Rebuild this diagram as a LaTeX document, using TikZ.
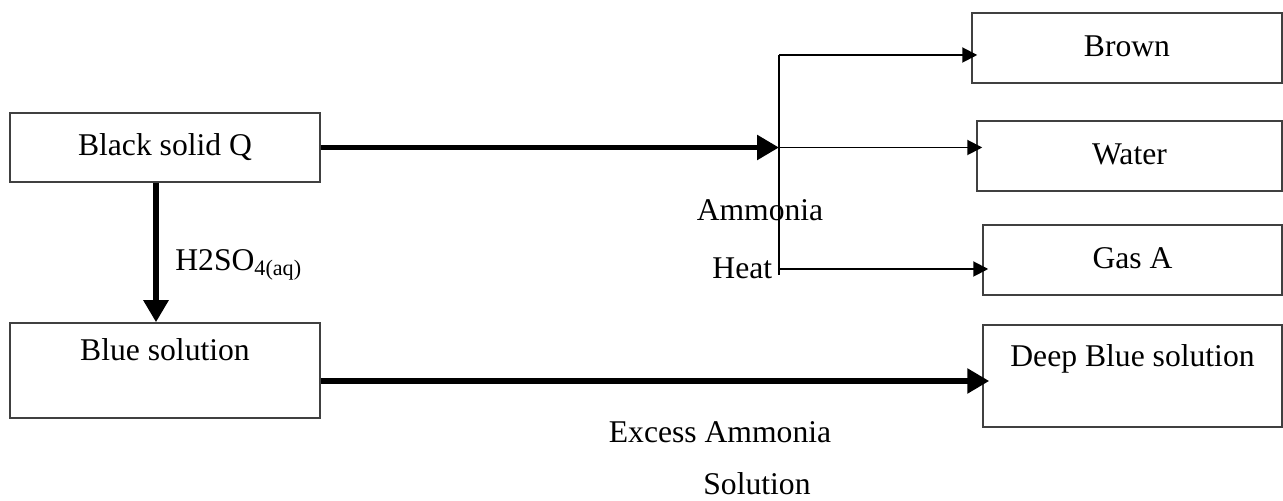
\documentclass[tikz,border=0pt]{standalone}
\usepackage{fontspec}
\setmainfont{Liberation Serif}
\usepackage{tikz}
\usetikzlibrary{arrows.meta,positioning,calc}
\tikzset{
  box/.style={rectangle, draw=black!75, line width=0.85pt, inner sep=0pt,
              minimum height=1.4cm, text height=0.45cm, text depth=0.12cm,
              font=\fontsize{18}{21}\selectfont},
  tallbox/.style={box, text depth=0.84cm},
  bigarrow/.style={-{Triangle[length=0.44cm,width=0.48cm]}, line width=3.4pt},
  thinarrow/.style={-{Triangle[length=0.3cm,width=0.3cm]}, line width=1.1pt,
                    shorten >=-0.12cm},
  lbl/.style={inner sep=0pt, font=\fontsize{18}{21}\selectfont},
}

\begin{document}
\begin{tikzpicture}
  \useasboundingbox (0,0) rectangle (25.66,10.02);

  % left column
  \node[box, minimum width=6.2cm, minimum height=1.38cm] (black) at (3.30,7.07) {Black solid Q};
  \node[tallbox, minimum width=6.2cm, minimum height=1.9cm] (blue) at (3.30,2.61) {Blue solution};

  % products (right column)
  \node[box, minimum width=6.2cm]  (brown) at (22.54,9.06) {Brown};
  \node[box, minimum width=6.1cm]  (water) at (22.59,6.90) {Water};
  \node[box, minimum width=5.98cm] (gas)   at (22.65,4.82) {Gas A};
  \node[tallbox, minimum width=5.98cm, minimum height=2.04cm] (deep) at (22.65,2.50) {Deep Blue solution};

  % splitter line
  \coordinate (top) at (15.58,8.92);
  \coordinate (bot) at (15.58,4.52);
  \coordinate (heatpt) at (15.58,4.64);
  \draw[line width=1.1pt] (top) -- (bot);

  % heating with ammonia
  \draw[bigarrow] (black.east) -- (black.east -| top);
  \draw[thinarrow] (top) -- (top -| brown.west);
  \draw[thinarrow] (black.east -| top) -- (black.east -| water.west);
  \draw[thinarrow] (heatpt) -- (heatpt -| gas.west);
  \node[lbl] (ammonia) at (15.2,5.82) {Ammonia};
  \node[lbl, anchor=east] (heat) at (15.45,4.66) {Heat};

  % acid
  \draw[bigarrow] ([xshift=-0.18cm]black.south) -- ([xshift=-0.18cm]blue.north);
  \node[lbl, anchor=west] (acid) at (3.5,4.72) {H2SO\textsubscript{4(aq)}};

  % excess ammonia
  \draw[bigarrow, shorten >=-0.14cm] ([yshift=-0.21cm]blue.east) -- ([yshift=-0.21cm]blue.east -| deep.west);
  \node[lbl] (excess) at (14.4,1.38) {Excess Ammonia};
  \node[lbl] (soln) at (15.14,0.34) {Solution};
\end{tikzpicture}
\end{document}
